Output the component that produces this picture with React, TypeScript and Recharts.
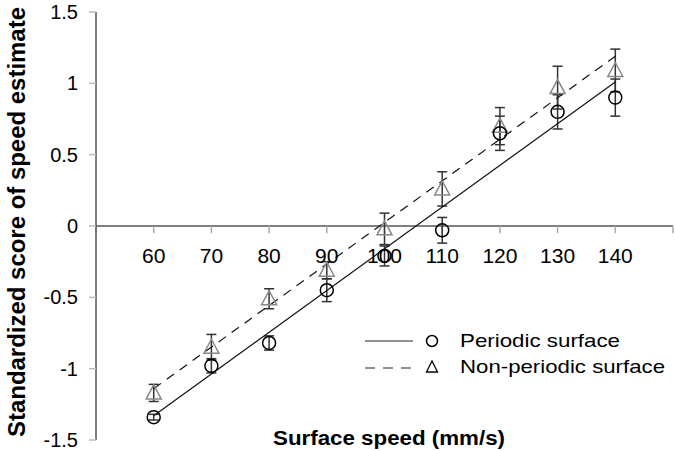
import React from "react";
import {
  ComposedChart,
  ErrorBar,
  ReferenceLine,
  Scatter,
  XAxis,
  YAxis,
} from "recharts";

// surface speeds (mm/s)
const speeds = [60, 70, 80, 90, 100, 110, 120, 130, 140];
const periodic = [-1.34, -0.98, -0.82, -0.45, -0.21, -0.03, 0.65, 0.8, 0.9];
const periodicErr = [0.02, 0.05, 0.05, 0.08, 0.07, 0.09, 0.12, 0.12, 0.13];
const nonPeriodic = [-1.17, -0.85, -0.51, -0.31, -0.02, 0.26, 0.7, 0.97, 1.09];
const nonPeriodicErr = [0.06, 0.09, 0.07, 0.06, 0.11, 0.12, 0.13, 0.15, 0.15];

// regression line end points
const trendX = [60, 140];
const periodicTrend = [-1.33, 1.01];
const nonPeriodicTrend = [-1.14, 1.19];

const xTickMarks = [50, 60, 70, 80, 90, 100, 110, 120, 130, 140, 150];
const xTickLabels = [60, 70, 80, 90, 100, 110, 120, 130, 140];
const yTicks = [-1.5, -1, -0.5, 0, 0.5, 1, 1.5];

const FONT = "'Liberation Sans', Arial, sans-serif";

const periodicData = speeds.map((x, i) => ({ x, y: periodic[i], err: periodicErr[i] }));
const nonPeriodicData = speeds.map((x, i) => ({ x, y: nonPeriodic[i], err: nonPeriodicErr[i] }));
const periodicLine = trendX.map((x, i) => ({ x, y: periodicTrend[i] }));
const nonPeriodicLine = trendX.map((x, i) => ({ x, y: nonPeriodicTrend[i] }));

const Circle = (props: any) => {
  const { cx, cy } = props;
  return <circle cx={cx} cy={cy} r={6.5} fill="none" stroke="#000" strokeWidth={1.5} />;
};

const Triangle = (props: any) => {
  const { cx, cy } = props;
  return (
    <polygon
      points={`${cx},${cy - 8} ${cx - 7.5},${cy + 6} ${cx + 7.5},${cy + 6}`}
      fill="none"
      stroke="#888"
      strokeWidth={1.5}
    />
  );
};

const NoShape = () => <g />;

// legend + x title drawn on top of the chart
const Overlay = () => (
  <svg
    width={675}
    height={451}
    style={{ position: "absolute", left: 0, top: 0, fontFamily: FONT, pointerEvents: "none" }}
  >
    <line x1={365} y1={341} x2={413} y2={341} stroke="#222" strokeWidth={1} />
    <circle cx={432} cy={341} r={5.5} fill="none" stroke="#000" strokeWidth={1.5} />
    <text x={460} y={347} fontSize={19} fill="#000" textLength={160} lengthAdjust="spacingAndGlyphs">
      Periodic surface
    </text>
    <line x1={365} y1={368} x2={413} y2={368} stroke="#222" strokeWidth={1} strokeDasharray="10 8" />
    <polygon points="432,361 426.5,372 437.5,372" fill="none" stroke="#000" strokeWidth={1.3} />
    <text x={460} y={373} fontSize={19} fill="#000" textLength={205} lengthAdjust="spacingAndGlyphs">
      Non-periodic surface
    </text>
    <text
      x={389}
      y={445}
      textAnchor="middle"
      fontSize={20}
      fontWeight="bold"
      fill="#000"
      textLength={232}
      lengthAdjust="spacingAndGlyphs"
    >
      Surface speed (mm/s)
    </text>
  </svg>
);

export default function App() {
  return (
    <div style={{ position: "absolute", left: 0, top: 0, width: 675, height: 451, background: "#fff" }}>
      <ComposedChart
        width={675}
        height={451}
        margin={{ top: 12, right: 2, bottom: 11, left: 0 }}
        style={{ fontFamily: FONT }}
      >
        <XAxis
          type="number"
          dataKey="x"
          domain={[50, 150]}
          ticks={xTickLabels}
          height={0}
          axisLine={false}
          tickLine={false}
          tick={false}
        />
        <YAxis
          type="number"
          dataKey="y"
          domain={[-1.5, 1.5]}
          ticks={yTicks}
          interval={0}
          width={96}
          tickSize={7}
          tickMargin={11}
          axisLine={{ stroke: "#555", strokeWidth: 1.5 }}
          tickLine={{ stroke: "#bbb", strokeWidth: 1.5 }}
          tick={{ fill: "#000", fontSize: 20, fontFamily: FONT }}
          label={{
            content: (p: any) => {
              const vb = p.viewBox;
              const cy = vb.y + vb.height / 2 - 4;
              return (
                <text
                  transform={`translate(17, ${cy}) rotate(-90)`}
                  textAnchor="middle"
                  dominantBaseline="central"
                  fontSize={23}
                  fontWeight="bold"
                  fill="#000"
                  fontFamily={FONT}
                  textLength={430}
                  lengthAdjust="spacingAndGlyphs"
                >
                  Standardized score of speed estimate
                </text>
              );
            },
          }}
        />
        <ReferenceLine y={0} stroke="#555" strokeWidth={1.5} />
        {xTickMarks.map((t) => (
          <ReferenceLine
            key={`tm-${t}`}
            segment={[
              { x: t, y: 0 },
              { x: t, y: -0.05 },
            ]}
            stroke="#aaa"
            strokeWidth={1.5}
            label={
              xTickLabels.includes(t)
                ? { value: String(t), position: "bottom", offset: 15, fontSize: 21, fill: "#000", fontFamily: FONT }
                : undefined
            }
          />
        ))}
        <Scatter
          data={periodicLine}
          line={{ stroke: "#111", strokeWidth: 1.2 }}
          shape={NoShape}
          isAnimationActive={false}
          legendType="none"
        />
        <Scatter
          data={nonPeriodicLine}
          line={{ stroke: "#111", strokeWidth: 1.2, strokeDasharray: "9 7" }}
          shape={NoShape}
          isAnimationActive={false}
          legendType="none"
        />
        <Scatter data={nonPeriodicData} shape={Triangle} isAnimationActive={false}>
          <ErrorBar dataKey="err" direction="y" width={5} stroke="#333" strokeWidth={1.5} />
        </Scatter>
        <Scatter data={periodicData} shape={Circle} isAnimationActive={false}>
          <ErrorBar dataKey="err" direction="y" width={5} stroke="#333" strokeWidth={1.5} />
        </Scatter>
      </ComposedChart>
      <Overlay />
    </div>
  );
}
